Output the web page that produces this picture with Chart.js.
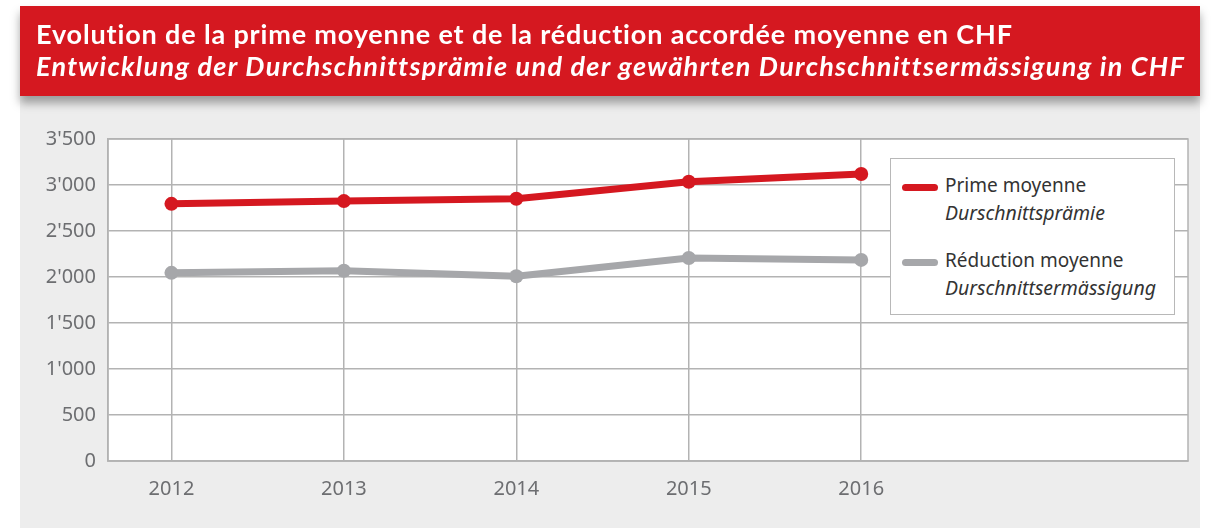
<!DOCTYPE html>
<html>
<head>
<meta charset="utf-8">
<script src="https://cdn.jsdelivr.net/npm/chart.js@4/dist/chart.umd.min.js"></script>
<style>
    html, body {
        margin: 0;
        padding: 0;
        background: #ffffff;
        width: 1220px;
        height: 528px;
        overflow: hidden;
        font-family: 'Lato', 'Noto Sans', sans-serif;
    }
    #panel {
        position: absolute;
        left: 20px;
        top: 96px;
        width: 1180px;
        height: 432px;
        background: #ededed;
    }
    #banner {
        position: absolute;
        left: 20px;
        top: 6px;
        width: 1180px;
        height: 90px;
        background: #d51820;
        box-shadow: 0 7px 9px rgba(0, 0, 0, 0.35);
        color: #ffffff;
        z-index: 2;
    }
    #banner .fr {
        position: absolute;
        left: 16px;
        top: 11px;
        font-weight: bold;
        font-size: 27px;
        letter-spacing: 0.85px;
        white-space: nowrap;
    }
    #banner .de {
        position: absolute;
        left: 16px;
        top: 43px;
        font-style: italic;
        font-weight: bold;
        font-size: 27px;
        letter-spacing: 1.3px;
        white-space: nowrap;
    }
    #chart-wrap {
        position: absolute;
        left: 20px;
        top: 96px;
        width: 1180px;
        height: 432px;
    }
    #legend {
        position: absolute;
        left: 890px;
        top: 158px;
        width: 285px;
        height: 157px;
        background: #ffffff;
        border: 1.5px solid #b8b8b8;
        box-sizing: border-box;
        font-family: 'Noto Sans', sans-serif;
        color: #333333;
        z-index: 3;
    }
    #legend .item {
        position: absolute;
        left: 11px;
    }
    #legend .swatch {
        position: absolute;
        left: 0;
        top: 12px;
        width: 36px;
        height: 7px;
        border-radius: 4px;
    }
    #legend .txt {
        position: absolute;
        left: 43px;
        top: 0;
        font-size: 19px;
        line-height: 27px;
        white-space: nowrap;
    }
    #legend .txt i {
        font-size: 19.5px;
    }
</style>
</head>
<body>
<div id="banner">
    <div class="fr">Evolution de la prime moyenne et de la réduction accordée moyenne en CHF</div>
    <div class="de">Entwicklung der Durchschnittsprämie und der gewährten Durchschnittsermässigung in CHF</div>
</div>
<div id="panel"></div>
<div id="chart-wrap"><canvas id="prime-chart" width="1180" height="432"></canvas></div>
<div id="legend"></div>
<script>
'use strict';

const years = [2012, 2013, 2014, 2015, 2016];

const series = [
    {
        label: 'Prime moyenne',
        sub: 'Durschnittsprämie',
        color: '#d51820',
        values: [2795, 2825, 2850, 3035, 3120],
    },
    {
        label: 'Réduction moyenne',
        sub: 'Durschnittsermässigung',
        color: '#a6a7aa',
        values: [2045, 2068, 2008, 2206, 2186],
    },
];

const gridColor = '#b3b3b3';
const tickColor = '#6d6e71';

/**
 * Format a number with a swiss apostrophe.
 *
 * @param {Number} value The value.
 * @return {String}
 */
const swiss = (value) => String(value).replace(/\B(?=(\d{3})+(?!\d))/g, '\'');

// White plot background, then the frame on all four sides.
const frame = {
    id: 'frame',
    beforeDraw: (chart) => {
        const {ctx, chartArea} = chart;
        ctx.save();
        ctx.fillStyle = '#ffffff';
        ctx.fillRect(chartArea.left, chartArea.top,
            chartArea.right - chartArea.left, chartArea.bottom - chartArea.top);
        ctx.restore();
    },
    afterDraw: (chart) => {
        const {ctx, chartArea} = chart;
        ctx.save();
        ctx.strokeStyle = gridColor;
        ctx.lineWidth = 1.5;
        ctx.strokeRect(chartArea.left, chartArea.top,
            chartArea.right - chartArea.left, chartArea.bottom - chartArea.top);
        ctx.restore();
    },
};

/**
 * Build the legend box from the series.
 */
const renderLegend = () => {
    const legend = document.getElementById('legend');
    series.forEach((s, i) => {
        const item = document.createElement('div');
        item.className = 'item';
        item.style.top = (13 + i * 75) + 'px';
        item.innerHTML = '<div class="swatch" style="background:' + s.color + '"></div>' +
            '<div class="txt">' + s.label + '<br><i>' + s.sub + '</i></div>';
        legend.appendChild(item);
    });
};

/**
 * Render the graph.
 *
 * @param {String} canvasId The ID of the canvas HTML element.
 */
const renderGraph = (canvasId) => {
    const data = {
        datasets: series.map((s) => ({
            label: s.label,
            data: s.values.map((v, i) => ({x: years[i], y: v})),
            borderColor: s.color,
            backgroundColor: s.color,
            borderWidth: 7,
            pointRadius: 7,
            pointHoverRadius: 7,
            pointBorderWidth: 0,
            tension: 0,
        })),
    };

    const config = {
        type: 'line',
        data: data,
        plugins: [frame],
        options: {
            responsive: false,
            animation: false,
            layout: {
                padding: {left: 0, right: 12, top: 43, bottom: 0},
            },
            plugins: {
                legend: {display: false},
                title: {display: false},
                tooltip: {enabled: false},
            },
            scales: {
                x: {
                    type: 'linear',
                    min: 2011.632,
                    max: 2017.895,
                    afterBuildTicks: (axis) => {
                        axis.ticks = years.map((y) => ({value: y}));
                    },
                    afterFit: (axis) => {
                        axis.height = 67;
                    },
                    grid: {color: gridColor, lineWidth: 1.5, drawTicks: false},
                    border: {color: gridColor, width: 1.5},
                    ticks: {
                        color: tickColor,
                        padding: 16,
                        font: {family: 'Noto Sans', size: 20},
                        callback: (value) => String(value),
                    },
                },
                y: {
                    min: 0,
                    max: 3500,
                    afterFit: (axis) => {
                        axis.width = 88;
                    },
                    grid: {color: gridColor, lineWidth: 1.5, drawTicks: false},
                    border: {color: gridColor, width: 1.5},
                    ticks: {
                        stepSize: 500,
                        color: tickColor,
                        padding: 12,
                        font: {family: 'Noto Sans', size: 20},
                        callback: (value) => swiss(value),
                    },
                },
            },
        },
    };

    return new Chart(document.getElementById(canvasId), config);
};

renderLegend();
renderGraph('prime-chart');
</script>
</body>
</html>
